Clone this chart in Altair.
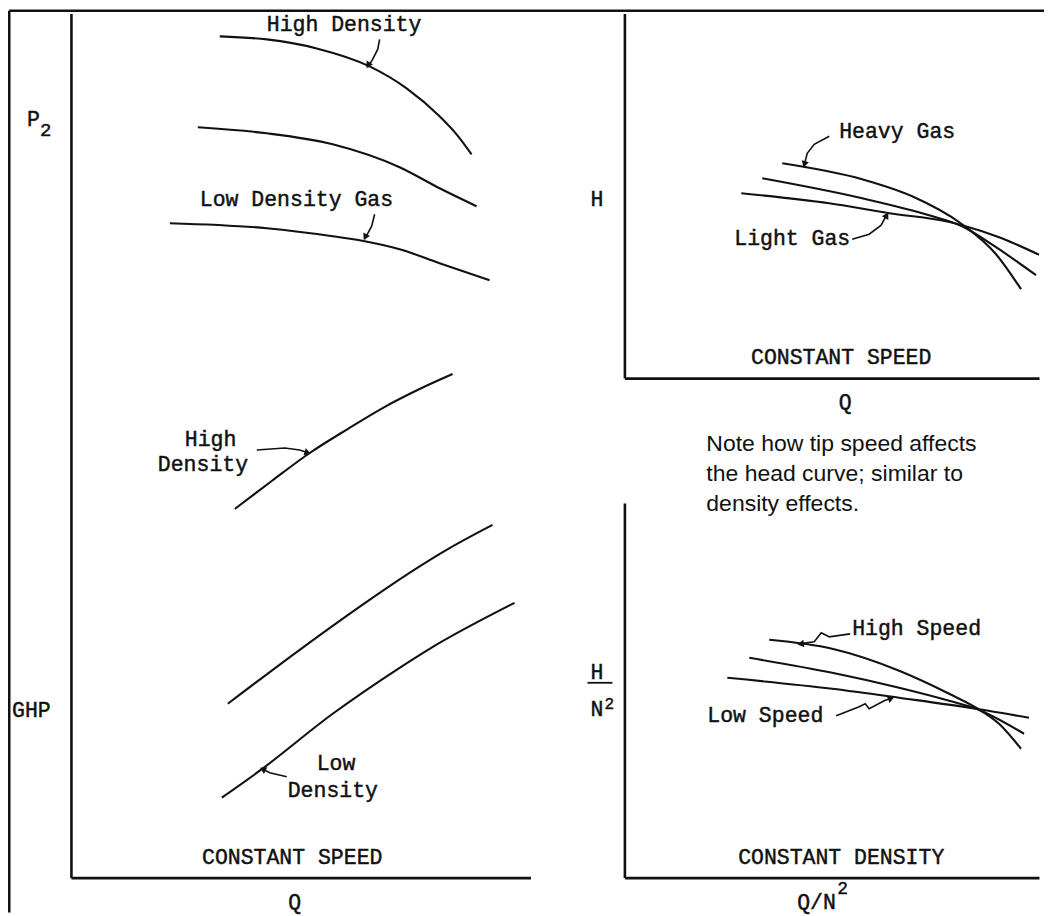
import altair as alt
import pandas as pd

INK = "#111111"
MONO = "Liberation Mono"
SANS = "Liberation Sans"

# ---------------- Left panel: P2 and GHP vs Q (constant speed) ----------------
p2_high_q = [29.8, 39.2, 49.2, 59.8, 67.2, 73.8, 77.2, 80.2]
p2_high_v = [168.4, 167.8, 166.0, 162.4, 158.0, 152.4, 148.8, 144.8]
p2_mid_q = [25.4, 39.2, 52.4, 65.8, 73.8, 81.2]
p2_mid_v = [150.2, 149.0, 146.8, 142.2, 138.0, 134.4]
p2_low_q = [19.8, 39.2, 52.4, 58.8, 65.8, 73.8, 83.8]
p2_low_v = [131.0, 130.0, 128.4, 127.4, 125.8, 123.0, 119.6]

ghp_high_q = [32.8, 40.2, 47.8, 55.4, 62.4, 69.8, 76.4]
ghp_high_v = [73.8, 79.4, 85.0, 89.8, 94.0, 97.8, 100.8]
ghp_mid_q = [31.4, 45.8, 59.2, 68.4, 75.2, 84.4]
ghp_mid_v = [34.8, 45.6, 55.2, 61.4, 65.6, 70.6]
ghp_low_q = [30.2, 37.8, 52.4, 65.8, 71.8, 88.8]
ghp_low_v = [16.0, 21.4, 32.8, 42.0, 45.8, 55.0]

# ---------------- Right top: H vs Q (constant speed) ----------------
heavy_q = [31.6, 47.6, 57.6, 67.6, 74.4, 79.4]
heavy_h = [43.0, 39.8, 36.4, 30.8, 24.8, 17.8]
medium_q = [27.6, 47.6, 61.0, 67.6, 74.4, 82.4]
medium_h = [40.0, 36.0, 32.6, 30.4, 26.2, 20.6]
light_q = [23.4, 41.0, 53.0, 64.4, 67.6, 75.0, 83.0]
light_h = [37.0, 35.0, 33.0, 31.4, 30.6, 28.2, 24.7]

# ---------------- Right bottom: H/N^2 vs Q/N^2 (constant density) ----------------
hs_q = [29.0, 41.6, 55.0, 65.0, 70.4, 75.0, 79.4]
hs_h = [47.6, 45.8, 41.4, 36.8, 34.0, 30.8, 25.8]
ms_q = [25.0, 41.6, 55.0, 65.0, 70.4, 80.0]
ms_h = [44.0, 41.0, 38.0, 35.4, 33.8, 28.8]
ls_q = [20.6, 41.6, 55.0, 70.4, 81.0]
ls_h = [40.0, 37.8, 36.0, 33.8, 32.0]

# ---------------- annotation arrows (label -> curve) ----------------
left_arrows = {
    "a1": [(61.8, 167.8), (61.4, 165.8), (60.4, 163.8), (59.4, 162.2)],
    "a2": [(60.8, 132.8), (60.2, 130.4), (58.8, 127.8)],
    "a3": [(37.2, 85.6), (42.8, 86.0), (45.8, 85.6), (47.6, 85.0)],
    "a4": [(43.2, 20.2), (39.8, 21.0), (38.2, 21.8)],
}
left_heads = [(59.6, 162.8, 212), (59.0, 128.4, 208), (47.2, 85.1, 108), (38.6, 21.6, 297)]

rt_arrows = {
    "b1": [(41.0, 48.4), (38.0, 46.8), (36.6, 45.0), (36.0, 42.6)],
    "b2": [(45.6, 27.8), (49.0, 28.8), (51.4, 30.6), (52.6, 32.8)],
}
rt_heads = [(36.1, 43.0, 197), (52.4, 32.4, 29)]

rb_arrows = {
    "c1": [(45.2, 48.8), (41.0, 48.2), (39.4, 49.0), (38.0, 47.2), (35.0, 46.8)],
    "c2": [(42.4, 32.4), (47.0, 34.2), (48.2, 34.8), (49.0, 33.8), (52.0, 35.4), (53.6, 36.0)],
}
rb_heads = [(35.5, 46.8, 262), (53.2, 35.8, 69)]

# ---------------- labels: (text, x, y, font, size, align) ----------------
left_labels = [
    ("High Density", 39.2, 170.7, MONO, 21.5, "left"),
    ("Low Density Gas", 25.8, 135.7, MONO, 21.5, "left"),
    ("High", 22.8, 87.6, MONO, 21.5, "left"),
    ("Density", 17.4, 82.5, MONO, 21.5, "left"),
    ("Low", 49.2, 22.8, MONO, 21.5, "left"),
    ("Density", 43.4, 17.4, MONO, 21.5, "left"),
    ("P", -8.8, 151.6, MONO, 21.5, "left"),
    ("2", -6.2, 149.6, MONO, 19, "left"),
    ("GHP", -11.8, 33.4, MONO, 21.5, "left"),
    ("CONSTANT SPEED", 44.3, 4.0, MONO, 21.5, "center"),
    ("Q", 44.8, -5.0, MONO, 21.5, "center"),
]
rt_labels = [
    ("Heavy Gas", 43.0, 49.2, MONO, 21.5, "left"),
    ("Light Gas", 22.0, 27.8, MONO, 21.5, "left"),
    ("H", -5.5, 35.6, MONO, 21.5, "center"),
    ("CONSTANT SPEED", 43.4, 4.0, MONO, 21.5, "center"),
    ("Q", 44.2, -5.0, MONO, 21.5, "center"),
]
rb_labels = [
    ("High Speed", 45.6, 49.8, MONO, 21.5, "left"),
    ("Low Speed", 16.6, 32.4, MONO, 21.5, "left"),
    ("H", -5.5, 41.0, MONO, 21.5, "center"),
    ("N", -5.5, 33.6, MONO, 21.5, "center"),
    ("2", -4.0, 34.8, MONO, 16, "left"),
    ("CONSTANT DENSITY", 43.4, 4.0, MONO, 21.5, "center"),
    ("Q/N", 34.6, -5.0, MONO, 21.5, "left"),
    ("2", 42.6, -2.2, MONO, 18, "left"),
    ("Note how tip speed affects", 16.4, 86.8, SANS, 23, "left"),
    ("the head curve; similar to", 16.4, 80.8, SANS, 23, "left"),
    ("density effects.", 16.4, 74.8, SANS, 23, "left"),
]
rb_fraction_bar = [(-7.4, -2.4, 39.0)]

# outer frame of the figure (top and left edges), in left-panel units
frame_top = [(-12.35, 194.8, 173.55)]
frame_left = [(-12.35, -7.0, 173.55)]


def curves_df(series):
    rows = []
    for name, xs, ys in series:
        for i, (a, b) in enumerate(zip(xs, ys)):
            rows.append({"curve": name, "i": i, "x": a, "y": b})
    return pd.DataFrame(rows)


def arrows_df(arrows):
    rows = []
    for name, pts in arrows.items():
        for i, (a, b) in enumerate(pts):
            rows.append({"arrow": name, "i": i, "x": a, "y": b})
    return pd.DataFrame(rows)


def panel(curves, arrows, heads, labels, w, h, xdom, ydom, bars=None, frame=False):
    xs = alt.Scale(domain=xdom, nice=False, zero=False)
    ys = alt.Scale(domain=ydom, nice=False, zero=False)
    ax = alt.Axis(domain=True, domainWidth=2.6, domainColor=INK, ticks=False,
                  labels=False, grid=False, title=None)
    X = lambda: alt.X("x:Q", scale=xs, axis=ax)
    Y = lambda: alt.Y("y:Q", scale=ys, axis=ax)
    layers = []
    layers.append(
        alt.Chart(curves_df(curves)).mark_line(
            interpolate="monotone", strokeWidth=2.1, color=INK, clip=False
        ).encode(x=X(), y=Y(), detail="curve:N", order="i:Q")
    )
    layers.append(
        alt.Chart(arrows_df(arrows)).mark_line(
            strokeWidth=1.6, color=INK, clip=False
        ).encode(x=X(), y=Y(), detail="arrow:N", order="i:Q")
    )
    hd = pd.DataFrame(heads, columns=["x", "y", "angle"])
    layers.append(
        alt.Chart(hd).mark_point(
            shape="triangle", filled=True, size=55, fill=INK, strokeWidth=0, opacity=1
        ).encode(x=X(), y=Y(), angle=alt.Angle("angle:Q", scale=None))
    )
    if bars:
        bd = pd.DataFrame(bars, columns=["x", "x2", "y"])
        layers.append(
            alt.Chart(bd).mark_rule(strokeWidth=1.8, color=INK).encode(
                x=X(), x2="x2:Q", y=Y()
            )
        )
    if frame:
        ft = pd.DataFrame(frame_top, columns=["x", "x2", "y"])
        layers.append(
            alt.Chart(ft).mark_rule(strokeWidth=2.5, color=INK).encode(
                x=X(), x2="x2:Q", y=Y()
            )
        )
        fl = pd.DataFrame(frame_left, columns=["x", "y", "y2"])
        layers.append(
            alt.Chart(fl).mark_rule(strokeWidth=2.5, color=INK).encode(
                x=X(), y=Y(), y2="y2:Q"
            )
        )
    ld = pd.DataFrame(labels, columns=["text", "x", "y", "font", "size", "align"])
    for (font, size, align), g in ld.groupby(["font", "size", "align"]):
        extra = {"stroke": INK, "strokeWidth": 0.45} if font == MONO else {}
        layers.append(
            alt.Chart(g.reset_index(drop=True)).mark_text(
                font=font, fontSize=float(size), align=align, baseline="middle",
                color=INK, **extra
            ).encode(x=X(), y=Y(), text="text:N")
        )
    return alt.layer(*layers).properties(width=w, height=h)


left = panel(
    [("p2_high", p2_high_q, p2_high_v), ("p2_mid", p2_mid_q, p2_mid_v),
     ("p2_low", p2_low_q, p2_low_v), ("ghp_high", ghp_high_q, ghp_high_v),
     ("ghp_mid", ghp_mid_q, ghp_mid_v), ("ghp_low", ghp_low_q, ghp_low_v)],
    left_arrows, left_heads, left_labels, 460, 865, [0, 92], [0, 173], frame=True,
)
right_top = panel(
    [("heavy", heavy_q, heavy_h), ("medium", medium_q, medium_h), ("light", light_q, light_h)],
    rt_arrows, rt_heads, rt_labels, 415, 365, [0, 83], [0, 73],
)
right_bottom = panel(
    [("high", hs_q, hs_h), ("mid", ms_q, ms_h), ("low", ls_q, ls_h)],
    rb_arrows, rb_heads, rb_labels, 415, 375, [0, 83], [0, 75], bars=rb_fraction_bar,
)

right = alt.vconcat(right_top, right_bottom, spacing=125, bounds="flush")
chart = alt.hconcat(left, right, spacing=94, bounds="flush").properties(
    padding={"left": 0, "top": 0, "right": 0, "bottom": 0}
).configure_view(stroke=None)

chart.save("out.html", embed_options={"renderer": "svg", "actions": False})
